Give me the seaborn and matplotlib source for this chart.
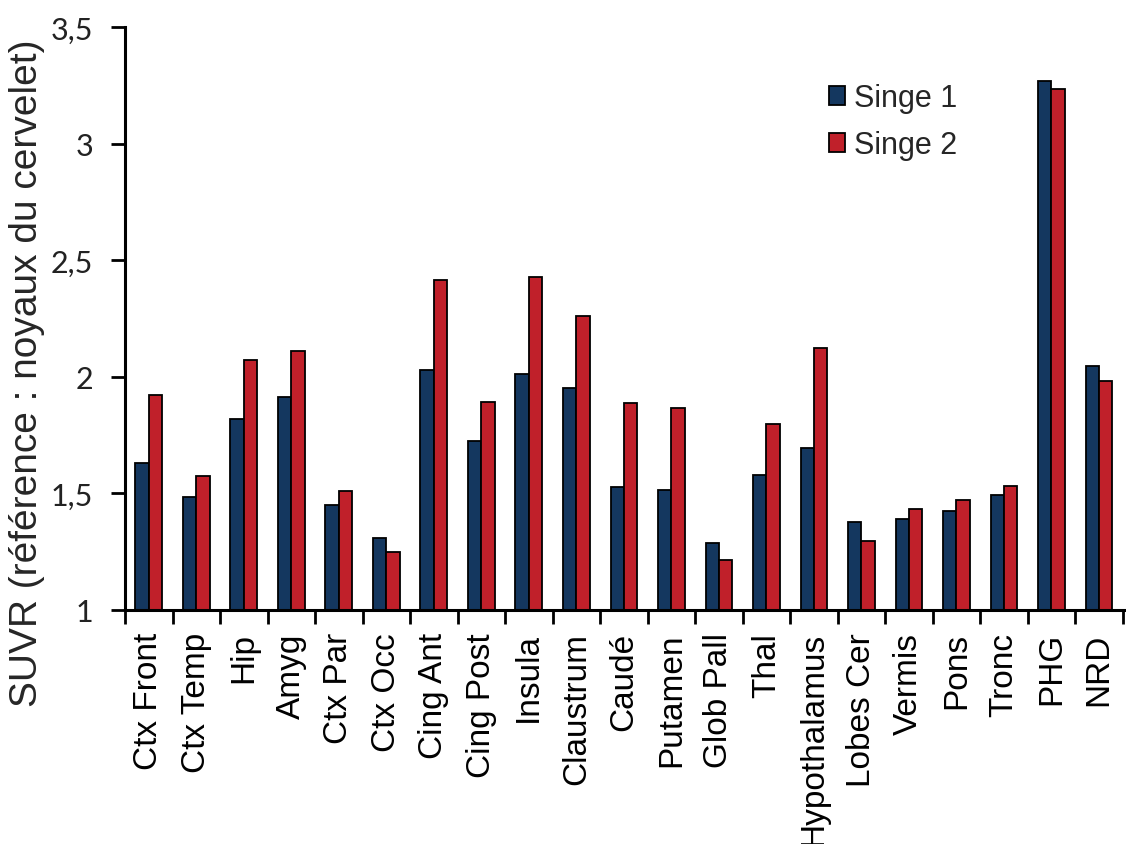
import matplotlib
matplotlib.use("Agg")
import matplotlib.pyplot as plt
import pandas as pd
import seaborn as sns

# regions (x axis)
regions = ["Ctx Front", "Ctx Temp", "Hip", "Amyg", "Ctx Par", "Ctx Occ",
           "Cing Ant", "Cing Post", "Insula", "Claustrum", "Caudé", "Putamen",
           "Glob Pall", "Thal", "Hypothalamus", "Lobes Cer", "Vermis", "Pons",
           "Tronc", "PHG", "NRD"]

# SUVR values
singe_1 = [1.63, 1.485, 1.82, 1.913, 1.45, 1.31, 2.03, 1.723, 2.01, 1.953,
           1.527, 1.513, 1.289, 1.58, 1.696, 1.377, 1.39, 1.424, 1.493,
           3.269, 2.045]
singe_2 = [1.92, 1.573, 2.07, 2.111, 1.512, 1.247, 2.415, 1.892, 2.429, 2.259,
           1.886, 1.866, 1.214, 1.798, 2.124, 1.294, 1.435, 1.471, 1.53,
           3.235, 1.98]

series = ["Singe 1", "Singe 2"]
y_ticks = [1, 1.5, 2, 2.5, 3, 3.5]
y_tick_labels = ["1", "1,5", "2", "2,5", "3", "3,5"]

df = pd.DataFrame({
    "region": regions * 2,
    "serie": [series[0]] * len(regions) + [series[1]] * len(regions),
    "suvr": singe_1 + singe_2,
})

sns.set_style("white")
plt.rcParams["font.family"] = ["Liberation Sans", "DejaVu Sans"]

fig = plt.figure(figsize=(11.26, 8.45), dpi=100)
ax = fig.add_axes([125 / 1126, 1 - 611 / 845, 1000 / 1126, (611 - 28) / 845])

sns.barplot(data=df, x="region", y="suvr", hue="serie",
            palette=["#14375F", "#C0202A"], saturation=1, width=0.56,
            edgecolor="black", linewidth=1.3, ax=ax)

ax.set_ylim(1, 3.5)
ax.set_xlim(-0.5, 20.55)
ax.set_yticks(y_ticks)
ax.set_yticklabels(y_tick_labels, fontsize=22, family=["Lato", "DejaVu Sans"])

# labels at the category centres, tick marks on the boundaries
ax.set_xticks([i - 0.5 for i in range(len(regions) + 1)])
ax.set_xticklabels([])
ax.set_xticks(range(len(regions)), minor=True)
ax.set_xticklabels(regions, minor=True)
ax.tick_params(axis="x", which="minor", length=0, pad=16, labelrotation=90,
               labelsize=24, labelcolor="black")
ax.tick_params(axis="x", which="major", direction="out", length=10, width=2,
               color="black", bottom=True)
ax.tick_params(axis="y", direction="out", length=10, width=2, color="black",
               left=True, pad=13, labelcolor="#222222")

for side in ["top", "right"]:
    ax.spines[side].set_visible(False)
for side in ["left", "bottom"]:
    ax.spines[side].set_color("black")
    ax.spines[side].set_linewidth(2.2)

ax.set_xlabel("")
ax.set_ylabel("SUVR (référence : noyaux du cervelet)", fontsize=28)
ax.yaxis.set_label_coords(45 / 1126, 1 - 373 / 845, transform=fig.transFigure)

ax.legend(loc="upper left", bbox_to_anchor=(801 / 1126, 1 - 57 / 845),
          bbox_transform=fig.transFigure, frameon=False, fontsize=22,
          handlelength=0.55, handleheight=0.55, handletextpad=0.3,
          labelspacing=0.55)

fig.savefig("out.png", dpi=100)
